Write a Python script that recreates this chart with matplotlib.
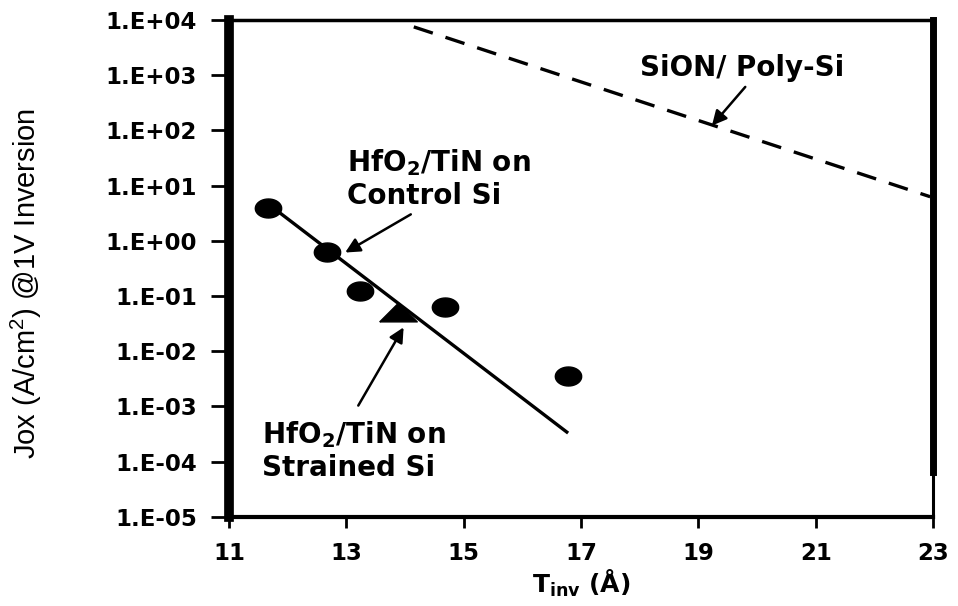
import numpy as np
import matplotlib
matplotlib.use('Agg')
import matplotlib.pyplot as plt
from matplotlib.ticker import FixedLocator, FuncFormatter

plt.rcParams['font.family'] = ['DejaVu Sans']
plt.rcParams['mathtext.fontset'] = 'dejavusans'

# HfO2/TiN on control Si (circles)
tinv_control = [11.66, 12.67, 13.23, 14.68, 16.78]
jox_control = [4.0, 0.63, 0.124, 0.063, 0.0035]

# HfO2/TiN on strained Si (triangle)
tinv_strained = [13.88]
jox_strained = [0.052]

# fit line through HfO2 data
fit_x = [11.75, 16.78]
fit_y = [4.0, 3.3e-4]

# SiON / poly-Si reference trend
sion_x = [14.15, 22.95]
sion_y = [7500, 6.3]

x_ticks = [11, 13, 15, 17, 19, 21, 23]
y_ticks = [1e-5, 1e-4, 1e-3, 1e-2, 1e-1, 1e0, 1e1, 1e2, 1e3, 1e4]


def sci_label(v, pos):
    e = int(round(np.log10(v)))
    return '1.E{}{:02d}'.format('+' if e >= 0 else '-', abs(e))


# markers look squashed in the original scan
t = np.linspace(0, 2 * np.pi, 41)
ellipse = list(zip(np.cos(t), 0.72 * np.sin(t)))
flat_tri = [(-1.0, -0.5), (1.0, -0.5), (0.0, 0.5), (-1.0, -0.5)]

fig = plt.figure(figsize=(9.58, 6.06), dpi=100)
ax = fig.add_axes([0.239, 0.147, 0.735, 0.820])

ax.plot(fit_x, fit_y, color='black', lw=2.4, solid_capstyle='butt')
ax.plot(sion_x, sion_y, color='black', lw=2.4, dashes=(6, 4))
ax.plot(tinv_control, jox_control, ls='none', marker=ellipse, color='black', ms=19)
ax.plot(tinv_strained, jox_strained, ls='none', marker=flat_tri, color='black', ms=27)

ax.set_yscale('log')
ax.set_xlim(11, 23)
ax.set_ylim(1e-5, 1e4)
ax.xaxis.set_major_locator(FixedLocator(x_ticks))
ax.yaxis.set_major_locator(FixedLocator(y_ticks))
ax.yaxis.set_minor_locator(FixedLocator([]))
ax.yaxis.set_major_formatter(FuncFormatter(sci_label))

for lab in ax.get_xticklabels() + ax.get_yticklabels():
    lab.set_fontweight('bold')
    lab.set_fontsize(16.5)
ax.tick_params(axis='y', direction='out', length=13, width=2, pad=10)
ax.tick_params(axis='x', direction='out', length=8, width=2, pad=10)

ax.spines['left'].set_linewidth(7)
ax.spines['right'].set_linewidth(2.2)
ax.spines['top'].set_linewidth(2.5)
ax.spines['bottom'].set_linewidth(3)
# heavy right border stops short of the x axis
ax.axvline(23, ymin=0.09, ymax=1, color='black', lw=5, clip_on=False)

ax.set_xlabel(r'T$_{\mathbf{inv}}$ (Å)', fontsize=18, fontweight='bold', labelpad=2)
ax.set_ylabel('Jox (A/cm$^\\mathregular{2}$) @1V Inversion', fontsize=21,
              family=['Liberation Sans'])
ax.yaxis.set_label_coords(-0.262, 0.47)

arrow = dict(arrowstyle='-|>', color='black', lw=1.8, mutation_scale=22)
ax.text(13.01, 13.3, 'HfO$_\\mathbf{2}$/TiN on\nControl Si',
        fontsize=20, fontweight='bold', ha='left', va='center')
ax.annotate('', xy=(12.94, 0.58), xytext=(14.14, 3.2), arrowprops=arrow)
ax.text(11.56, 1.6e-4, 'HfO$_\\mathbf{2}$/TiN on\nStrained Si',
        fontsize=20, fontweight='bold', ha='left', va='center')
ax.annotate('', xy=(14.0, 0.03), xytext=(13.18, 9.4e-4), arrowprops=arrow)
ax.text(18.0, 1350, 'SiON/ Poly-Si', fontsize=20, fontweight='bold',
        ha='left', va='center')
ax.annotate('', xy=(19.2, 112), xytext=(19.83, 670), arrowprops=arrow)

fig.savefig('out.png', dpi=100)
